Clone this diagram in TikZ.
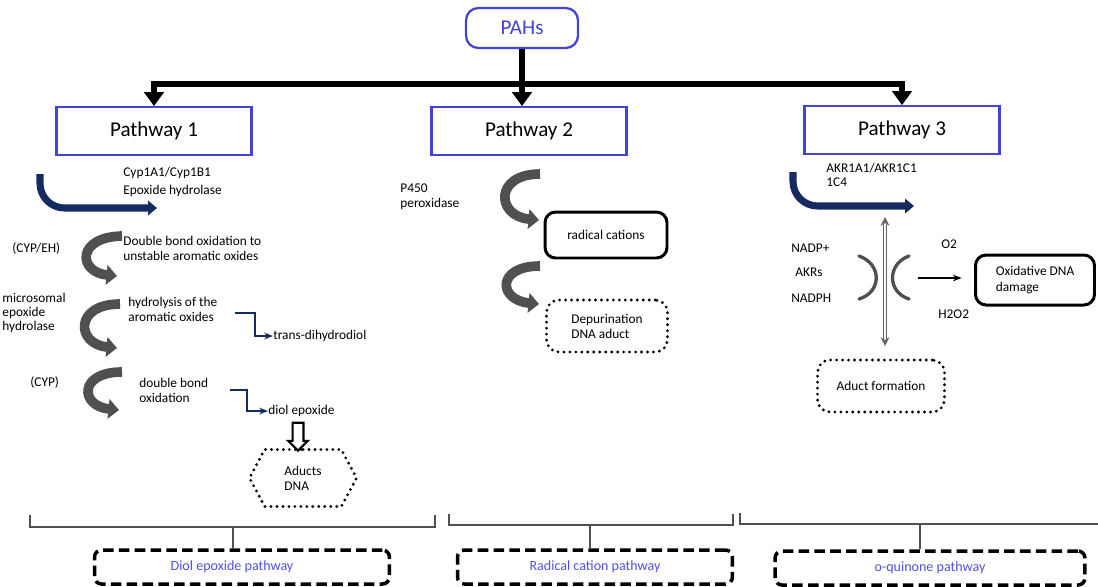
\documentclass[tikz,border=0pt]{standalone}
\usepackage{fontspec}
\setmainfont{Carlito}
\usetikzlibrary{arrows.meta, shapes.symbols, shapes.arrows}
\definecolor{pblue}{RGB}{68,68,212}
\definecolor{lblue}{RGB}{80,80,230}
\definecolor{navy}{RGB}{22,42,98}
\definecolor{darkg}{RGB}{80,80,80}

\begin{document}
\begin{tikzpicture}[x=0.02cm, y=-0.02cm]
        \tikzstyle{pahsbox} = [rectangle, rounded corners=7pt, draw=pblue, line width=1.3pt, text=pblue, minimum width=2.24cm, minimum height=0.8cm, font=\fontsize{12}{14}\selectfont];
        \tikzstyle{pbox} = [rectangle, draw=pblue, line width=1.3pt, minimum width=3.9cm, minimum height=0.95cm, font=\fontsize{12}{14}\selectfont];
        \tikzstyle{trunk} = [line width=3.4pt, -{Triangle[width=11pt,length=8pt]}];
        \tikzstyle{lbl} = [inner sep=0pt, align=left, anchor=west, font=\fontsize{7.6}{8.6}\selectfont];
        \tikzstyle{enzyme} = [navy, line width=4pt, rounded corners=14pt, -{Triangle[width=8pt,length=5pt]}];
        \tikzstyle{curlarrow} = [darkg, line width=5.5pt, -{Triangle[width=11pt,length=6pt]}];
        \tikzstyle{elbow} = [navy, line width=1.2pt, -{Stealth[length=5pt]}];
        \tikzstyle{solidbox} = [rectangle, rounded corners=6pt, draw, line width=1.7pt, align=left, font=\fontsize{7.6}{8.6}\selectfont];
        \tikzstyle{dotbox} = [rectangle, rounded corners=7pt, draw, line width=1.8pt, dash pattern=on 0pt off 3.4pt, line cap=round, align=left, font=\fontsize{7.6}{8.6}\selectfont];
        \tikzstyle{dashbox} = [rectangle, rounded corners=4pt, draw, line width=2pt, dash pattern=on 6pt off 3pt, text=lblue, minimum height=0.68cm, font=\fontsize{8}{9}\selectfont];
        \tikzstyle{bracketline} = [darkg, line width=1.1pt];
        \tikzstyle{paren} = [darkg, line width=1.9pt, line cap=round];

        \useasboundingbox (0,0) rectangle (1098,586);

        % top of the tree
        \node(pahs) [pahsbox] at (522,28) {PAHs};
        \node(pw1) [pbox] at (154,131) {Pathway 1};
        \node(pw2) [pbox] at (529,131) {Pathway 2};
        \node(pw3) [pbox] at (902,130) {Pathway 3};

        \coordinate (bus) at (522,84);
        \draw[trunk] (pahs.south) -- (pahs.south |- pw2.north);
        \draw[trunk] (bus) -| (pw1.north);
        \draw[trunk] (bus) -| (pw3.north);

        % pathway 1
        \coordinate (cyp1s) at (40,174);
        \coordinate (cyp1e) at (157,208);
        \draw[enzyme] (cyp1s) |- (cyp1e);
        \node(cyp1) [lbl, font=\fontsize{7.6}{10}\selectfont] at (123,182) {Cyp1A1/Cyp1B1\\Epoxide hydrolase};

        \node(cypeh) [lbl] at (12,249) {(CYP/EH)};
        \coordinate (c1a) at (122,236);
        \coordinate (c1b) at (117,276);
        \draw[curlarrow] (c1a) .. controls (76,237) and (78,272) .. (c1b);
        \node(oxid1) [lbl] at (123,248) {Double bond oxidation to\\unstable aromatic oxides};

        \node(micro) [lbl, font=\fontsize{7.6}{7.9}\selectfont] at (2,313) {microsomal\\epoxide\\hydrolase};
        \coordinate (c2a) at (120,304);
        \coordinate (c2b) at (117,348);
        \draw[curlarrow] (c2a) .. controls (74,304) and (76,344) .. (c2b);
        \node(hydro) [lbl] at (128,309) {hydrolysis of the\\aromatic oxides};
        \node(tdh) [lbl] at (273,336) {trans-dihydrodiol};
        \coordinate (h1) at (235,313);
        \draw[elbow] (h1) -- ++(20,0) |- (tdh.west);

        \node(cyp) [lbl] at (30,383) {(CYP)};
        \coordinate (c3a) at (122,372);
        \coordinate (c3b) at (119,410);
        \draw[curlarrow] (c3a) .. controls (78,372) and (80,406) .. (c3b);
        \node(oxid2) [lbl] at (139,390) {double bond\\oxidation};
        \node(diol) [lbl] at (268,411) {diol epoxide};
        \coordinate (d1) at (230,390);
        \draw[elbow] (d1) -- ++(17,0) |- (diol.west);

        \node(down) [single arrow, draw, line width=1.2pt, fill=white, shape border rotate=270, minimum height=0.56cm, single arrow head extend=2.5pt, inner sep=2.5pt] at (298,434) {};
        \node(adna) [signal, signal to=west and east, signal pointer angle=124, draw, line width=1.8pt, dash pattern=on 0pt off 3.4pt, line cap=round, minimum width=2.14cm, minimum height=1.14cm, align=left, font=\fontsize{7.6}{8.6}\selectfont] at (303,478) {Aducts\\DNA};

        % pathway 2
        \node(p450) [lbl] at (400,197) {P450\\peroxidase};
        \coordinate (c4a) at (540,174);
        \coordinate (c4b) at (539,220);
        \draw[curlarrow] (c4a) .. controls (494,174) and (496,216) .. (c4b);
        \node(radc) [solidbox, minimum width=2.44cm, minimum height=0.92cm] at (606,235) {radical cations};
        \coordinate (c5a) at (540,266);
        \coordinate (c5b) at (539,304);
        \draw[curlarrow] (c5a) .. controls (496,266) and (498,300) .. (c5b);
        \node(depur) [dotbox, minimum width=2.42cm, minimum height=1.04cm] at (607,326) {Depurination\\DNA aduct};

        % pathway 3
        \coordinate (akrs) at (793,172);
        \coordinate (akre) at (914,206);
        \draw[enzyme] (akrs) |- (akre);
        \node(akr) [lbl, font=\fontsize{7.6}{8}\selectfont] at (826,175) {AKR1A1/AKR1C1\\1C4};
        \node(nadp) [lbl] at (791,248) {NADP+};
        \node(akrlbl) [lbl] at (795,272) {AKRs};
        \node(nadph) [lbl] at (791,298) {NADPH};

        \coordinate (vtop) at (885,217);
        \coordinate (vbot) at (885,346);
        \draw[gray!80!black, double=white, double distance=0.8pt, line width=0.7pt, {Stealth[length=5pt,width=5pt]}-{Stealth[length=5pt,width=5pt]}] (vtop) -- (vbot);
        \draw[paren] (859,256) .. controls (882,264) and (882,292) .. (859,299);
        \draw[paren] (909,256) .. controls (887,264) and (887,292) .. (909,299);

        \node(o2) [lbl] at (941,244) {O2};
        \node(h2o2) [lbl] at (938,314) {H2O2};
        \node(ox) [solidbox, minimum width=2.38cm, minimum height=1cm] at (1035,280) {Oxidative DNA\\damage};
        \coordinate (oxs) at (918,278);
        \draw[line width=0.9pt, -{Stealth[length=5pt]}, shorten >=7pt] (oxs) -- (oxs -| ox.west);
        \node(aduct) [dotbox, minimum width=2.54cm, minimum height=1.04cm] at (881,386) {Aduct formation};

        % brackets and pathway names
        \node(dep) [dashbox, minimum width=5.9cm] at (242,567) {\hspace*{-0.4cm}Diol epoxide pathway};
        \node(rcp) [dashbox, minimum width=5.5cm] at (595,567) {Radical cation pathway};
        \node(oqp) [dashbox, minimum width=6.2cm] at (930,568) {o-quinone pathway};

        \draw[bracketline] (30,515) -- (30,527) -- (435,527) -- (435,515);
        \draw[bracketline] (449,514) -- (449,525) -- (733,525) -- (733,514);
        \draw[bracketline] (740,513) -- (740,524) -- (1100,524);
        \coordinate (b1) at (233,527);
        \coordinate (b2) at (590,525);
        \coordinate (b3) at (920,524);
        \draw[bracketline] (b1) -- (b1 |- dep.north);
        \draw[bracketline] (b2) -- (b2 |- rcp.north);
        \draw[bracketline] (b3) -- (b3 |- oqp.north);

\end{tikzpicture}
\end{document}
